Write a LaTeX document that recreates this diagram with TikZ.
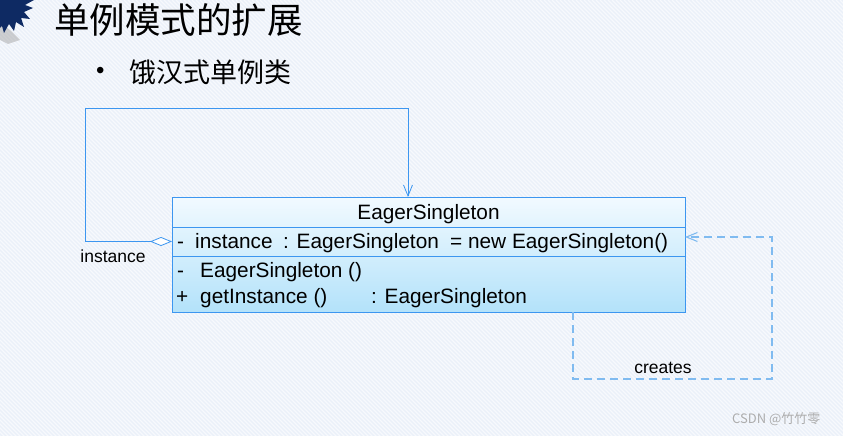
\documentclass[tikz,border=0pt]{standalone}
\usepackage{fontspec}
\setmainfont{Liberation Sans}
\newfontfamily\cjk{Noto Sans CJK SC}
\usetikzlibrary{arrows.meta}
\definecolor{bgc}{HTML}{EAF0F9}
\definecolor{stripe}{HTML}{F7F9FD}
\definecolor{umlline}{HTML}{3C96F0}
\definecolor{dashc}{HTML}{80BBF0}
\definecolor{boxtop}{HTML}{F2FAFF}
\definecolor{boxbot}{HTML}{B3E2FA}
\definecolor{navy}{HTML}{0E2A63}
\tikzset{
  umltext/.style={font=\fontsize{20.8}{25}\selectfont, inner sep=0pt, anchor=base west, text=black},
  lbltext/.style={font=\fontsize{17.5}{21}\selectfont, inner sep=0pt, text=black},
  solidlink/.style={draw=umlline, line width=0.8pt},
  dashlink/.style={draw=dashc, line width=1.1pt, dash pattern=on 8pt off 5pt},
}
\begin{document}
\begin{tikzpicture}[x=1pt,y=-1pt]
\useasboundingbox (0,0) rectangle (843,436);
\fill[bgc] (0,0) rectangle (843,436);
\begin{scope}
\clip (0,0) rectangle (843,436);
\foreach \i in {-440,-436,...,844} {\draw[stripe, line width=1.2pt] (\i,0) -- (\i+440,440);}
\end{scope}
% decoration top-left
\fill[black!35, opacity=0.5] (0,22) -- (10,30) -- (20,40) -- (8,44) -- (0,40) -- cycle;
\fill[navy] (0,0) -- (34,0) -- (25,5) -- (33,8) -- (24,12) -- (30,19) -- (21,18) -- (24,27) -- (16,22) -- (14,31) -- (9,24) -- (4,33) -- (2,26) -- (0,28) -- cycle;
% titles
\node[font=\cjk\fontsize{35.5}{40}\selectfont, anchor=west, inner sep=0pt] (title) at (54,20) {单例模式的扩展};
\node[font=\fontsize{24}{28}\selectfont, anchor=west, inner sep=0pt] (bullet) at (96,73) {•};
\node[font=\cjk\fontsize{27}{32}\selectfont, anchor=west, inner sep=0pt] (sub) at (129,72) {饿汉式单例类};
% class box
\node[draw=umlline, line width=0.9pt, top color=boxtop, bottom color=boxbot, minimum width=513pt, minimum height=115pt, inner sep=0pt] (box) at (428.5,254.5) {};
\draw[umlline, line width=0.9pt] (172,227) -- (685,227);
\draw[umlline, line width=0.9pt] (172,256) -- (685,256);
\node[umltext, anchor=base] (cname) at (428.5,219) {EagerSingleton};
\node[umltext] (a1) at (177,248) {-};
\node[umltext] (a2) at (195,248) {instance};
\node[umltext] (a3) at (283,248) {: EagerSingleton};
\node[umltext] (a4) at (450,248) {= new EagerSingleton()};
\node[umltext] (m1a) at (177,277) {-};
\node[umltext] (m1b) at (200,277) {EagerSingleton ()};
\node[umltext] (m2a) at (176,303) {+};
\node[umltext] (m2b) at (200,303) {getInstance ()};
\node[umltext] (m2c) at (371,303) {: EagerSingleton};
% aggregation self link
\coordinate (ag) at (172,241.5);
\coordinate (in) at (408,197);
\draw[solidlink, {Diamond[open,length=22pt,width=9pt,fill=white]}-{Straight Barb[length=11pt,width=9pt]}]
  (ag) -- (85,241.5) -- (85,108) -- (408,108) -- (in);
\node[lbltext, anchor=base] (instl) at (113,262) {instance};
% dependency self link
\coordinate (dout) at (573,312);
\coordinate (din) at (685,237);
\draw[dashlink, -{Straight Barb[length=11pt,width=9pt]}] (dout) -- (573,379) -- (772,379) -- (772,237) -- (din);
\node[lbltext, anchor=base] (crl) at (663,373) {creates};
% watermark
\node[font=\cjk\fontsize{13}{15}\selectfont, text=black!32, anchor=west, inner sep=0pt] (wm) at (732,419) {CSDN @竹竹零};
\end{tikzpicture}
\end{document}
